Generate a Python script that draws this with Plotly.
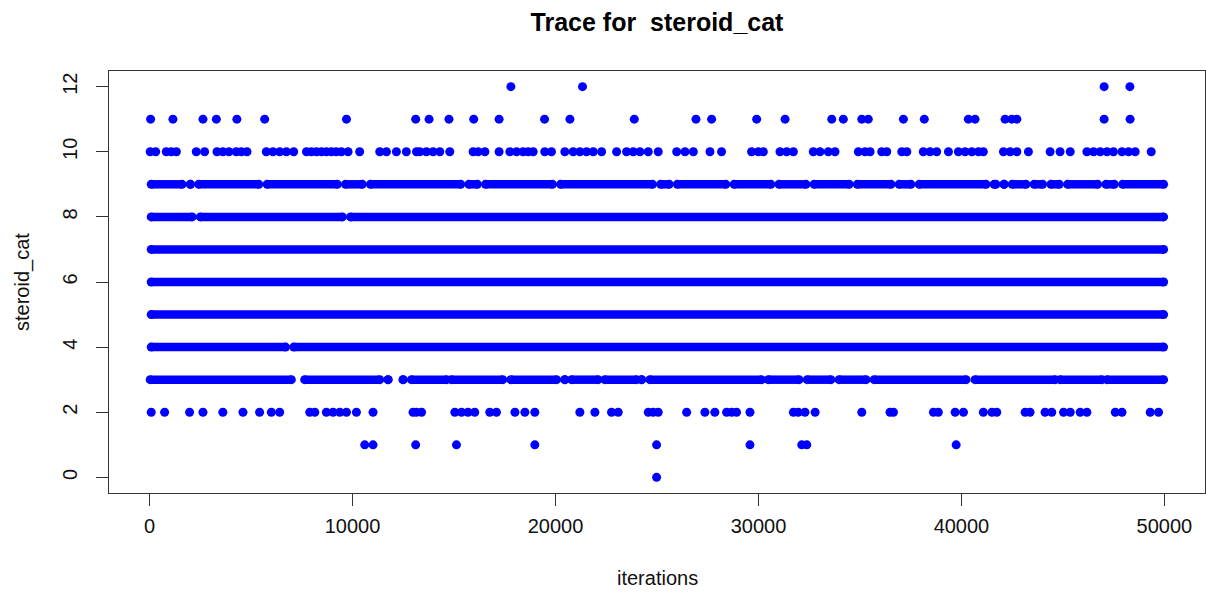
import plotly.graph_objects as go

# ---- data (iteration numbers) ----
level12_iters = [17800, 21330, 47030, 48300]
level11_iters = [50, 1150, 2630, 3290, 4300, 5670, 9700, 13110, 13770, 14750, 15970,
                 17220, 19460, 20710, 23880, 26920, 27690, 29910, 31310, 33610, 34180,
                 35090, 35410, 37140, 38170, 40340, 40670, 42150, 42480, 42730, 47030, 48310]
level10_iters = [30, 300, 820, 1070, 1320, 2300, 2710, 3320, 3610, 3910, 4270, 4520, 4800,
                 5750, 6080, 6410, 6740, 7100, 7730, 7970, 8220, 8470, 8710, 8960, 9200,
                 9450, 9780, 10350, 11340, 11670, 12160, 12650, 13150, 13310, 13640, 13970,
                 14300, 14790, 15940, 16190, 16520, 17220, 17750, 18080, 18400, 18650,
                 18900, 19470, 19800, 20460, 20870, 21200, 21530, 21860, 22270, 23010,
                 23500, 23830, 24160, 24570, 25060, 25970, 26380, 26790, 27610, 28180,
                 29660, 29990, 30240, 31060, 31390, 31720, 32700, 33030, 33440, 33770,
                 34920, 35250, 35500, 36070, 36320, 37060, 37310, 38120, 38450, 38780,
                 39360, 39850, 40180, 40510, 40840, 41080, 42070, 42400, 42730, 43300,
                 44370, 44860, 45360, 46180, 46510, 46840, 47170, 47490, 47910, 48230,
                 48560, 49350]
level2_iters = [80, 740, 1970, 2630, 3610, 4600, 5420, 6000, 6410, 7890, 8140, 8710, 9040,
                9370, 9700, 10190, 11010, 12980, 13150, 13400, 15040, 15370, 15690, 16020,
                16760, 17090, 18000, 18490, 18980, 21200, 21940, 22760, 23090, 24570, 24810,
                25060, 26460, 27360, 27850, 28430, 28680, 28920, 29580, 31720, 31960, 32290,
                32790, 35090, 36480, 36650, 38620, 38860, 39690, 40100, 41080, 41500, 41740,
                43140, 43380, 44120, 44450, 45030, 45360, 45850, 46180, 47580, 47910, 49300,
                49710]
level1_iters = [10600, 11010, 13110, 15120, 18980, 24980, 29580, 32130, 32380, 39740]
level0_iters = [24980]

# dense levels: runs of consecutive draws (start, end)
level9_runs = [(80, 1600), (2010, 2010), (2420, 5380), (5790, 9250), (9650, 10480),
               (10880, 15330), (15730, 16150), (16550, 19850), (20250, 24780),
               (25180, 25600), (26000, 28390), (28800, 30610), (31010, 32340),
               (32740, 34470), (34870, 36530), (36930, 37510), (37920, 41210),
               (41610, 41700), (42100, 42100), (42500, 43180), (43580, 44000),
               (44410, 44820), (45230, 46710), (47120, 47530), (47940, 49960)]
level8_runs = [(80, 2100), (2500, 9500), (9900, 49960)]
level7_runs = [(80, 49960)]
level6_runs = [(80, 49960)]
level5_runs = [(80, 49960)]
level4_runs = [(80, 6700), (7100, 49960)]
level3_runs = [(30, 6985), (7640, 11340), (11750, 11750), (12490, 12490), (12900, 14630),
               (14870, 17400), (17800, 20050), (20460, 20460), (20790, 22100),
               (22430, 23990), (24240, 24240), (24650, 30150), (30480, 32000),
               (32400, 33570), (33970, 35300), (35700, 40230), (40670, 44620),
               (44860, 46920), (47170, 49960)]

x_ticks = [0, 10000, 20000, 30000, 40000, 50000]
y_ticks = [0, 2, 4, 6, 8, 10, 12]

title_text = "Trace for  steroid_cat"
x_title = "iterations"
y_title = "steroid_cat"

BLUE = "#0000FF"
FONT = "Liberation Sans, Arial, sans-serif"
DOT = 9

fig = go.Figure()

sparse = [(12, level12_iters), (11, level11_iters), (10, level10_iters),
          (2, level2_iters), (1, level1_iters), (0, level0_iters)]
for lvl, xs in sparse:
    fig.add_trace(go.Scatter(x=xs, y=[lvl] * len(xs), mode="markers",
                             marker=dict(color=BLUE, size=DOT), showlegend=False,
                             hoverinfo="x+y"))

dense = [(9, level9_runs), (8, level8_runs), (7, level7_runs), (6, level6_runs),
         (5, level5_runs), (4, level4_runs), (3, level3_runs)]
for lvl, runs in dense:
    xs, ys = [], []
    for s, e in runs:
        xs += [s, e, None]
        ys += [lvl, lvl, None]
    fig.add_trace(go.Scatter(x=xs, y=ys, mode="lines+markers",
                             line=dict(color=BLUE, width=8.5),
                             marker=dict(color=BLUE, size=DOT), showlegend=False,
                             hoverinfo="x+y"))

axis_common = dict(showgrid=False, zeroline=False, showline=True, mirror=True,
                   automargin=False,
                   linecolor="#333333", linewidth=1.3, ticks="outside", ticklen=12,
                   tickcolor="#333333", tickwidth=1.3,
                   tickfont=dict(family=FONT, size=20, color="#111111"))

fig.update_layout(
    template="none",
    width=1206, height=596,
    margin=dict(l=109, r=1, t=71, b=103, autoexpand=False),
    paper_bgcolor="white", plot_bgcolor="white",
    title=dict(text="<b>" + title_text + "</b>", x=0.5, xref="paper", xanchor="center",
               y=1 - 22 / 596, yref="container", yanchor="middle",
               font=dict(family=FONT, size=25, color="#000000")),
    xaxis=dict(range=[-2000, 52000], tickvals=x_ticks,
               ticktext=[str(v) for v in x_ticks], ticklabelstandoff=3, **axis_common),
    yaxis=dict(range=[-0.48, 12.48], tickvals=y_ticks,
               ticktext=[str(v) for v in y_ticks], tickangle=-90,
               ticklabelstandoff=11, **axis_common),
    annotations=[
        dict(text=x_title, xref="paper", yref="paper", x=0.5, y=-(578 - 493) / 422,
             xanchor="center", yanchor="middle", showarrow=False,
             font=dict(family=FONT, size=20, color="#111111")),
        dict(text=y_title, xref="paper", yref="paper", x=-(109 - 22) / 1096, y=0.5,
             xanchor="center", yanchor="middle", textangle=-90, showarrow=False,
             font=dict(family=FONT, size=20, color="#111111")),
    ],
)

fig.write_html(
    "out.html",
    config={"displayModeBar": False},
    post_script="document.body.style.margin='0';document.body.style.padding='0';"
                "document.documentElement.style.overflow='hidden';",
)
